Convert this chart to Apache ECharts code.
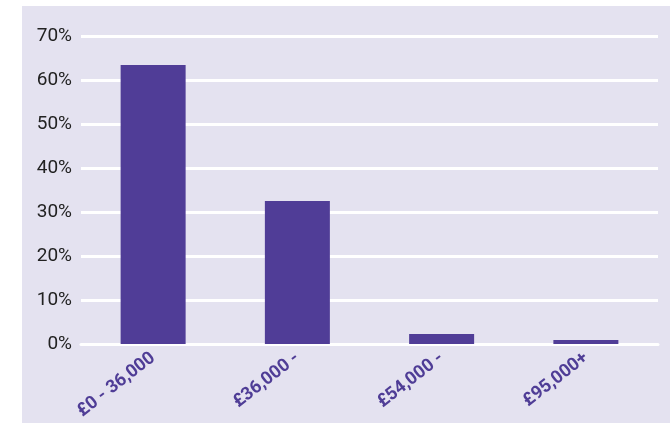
<!DOCTYPE html>
<html>
<head>
<meta charset="utf-8">
<script src="https://cdn.jsdelivr.net/npm/echarts@6/dist/echarts.min.js"></script>
<style>
  html, body { margin: 0; padding: 0; background: #fff; }
  #wrap { position: relative; width: 671px; height: 423px; }
  #chart { position: absolute; left: 22px; top: 6px; width: 648px; height: 417px; background: #e4e2f0; }
</style>
</head>
<body>
<div id="wrap"><div id="chart"></div></div>
<script>
// salary bands and share of respondents (%)
const categories = ['£0 - 36,000', '£36,000 -', '£54,000 -', '£95,000+']
const shares = [63.4, 32.5, 2.3, 0.9]
const yTicks = [0, 10, 20, 30, 40, 50, 60, 70]

const chart = echarts.init(document.getElementById('chart'), null, { renderer: 'canvas' })

const option = {
  animation: false,
  grid: {
    left: 59,
    right: 12,
    top: 30,
    bottom: 79,
    outerBoundsMode: 'none'
  },
  xAxis: {
    type: 'category',
    data: categories,
    axisLine: { show: true, lineStyle: { color: '#ffffff', width: 3 } },
    axisTick: { show: false },
    axisLabel: {
      rotate: 38,
      margin: 12,
      color: '#4f3d96',
      fontWeight: 'bold',
      fontSize: 18,
      fontFamily: 'Roboto, sans-serif'
    }
  },
  yAxis: {
    type: 'value',
    min: yTicks[0],
    max: yTicks[yTicks.length - 1],
    interval: 10,
    axisLine: { show: false },
    axisTick: { show: false },
    splitLine: { lineStyle: { color: '#ffffff', width: 3 } },
    axisLabel: {
      formatter: '{value}%',
      margin: 9,
      color: '#222222',
      fontSize: 19,
      fontFamily: 'Roboto, sans-serif'
    }
  },
  series: [
    {
      type: 'bar',
      data: shares,
      barWidth: 65,
      itemStyle: { color: '#503d97' }
    }
  ]
}

chart.setOption(option)
</script>
</body>
</html>
